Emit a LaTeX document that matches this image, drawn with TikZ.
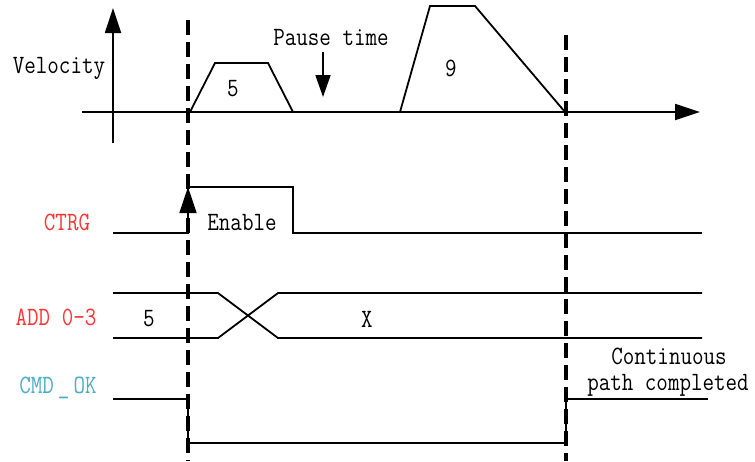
\documentclass[tikz,border=0pt]{standalone}
\usepackage{graphicx}
\usetikzlibrary{arrows.meta}
\definecolor{sigred}{HTML}{FF3333}
\definecolor{sigcyan}{HTML}{4BACC6}
\newcommand\tallText[1]{\scalebox{1}[1.18]{#1}}
\begin{document}
\begin{tikzpicture}[x=1pt,y=-1pt,
  wave/.style={line width=1.8pt, line join=miter},
  guide/.style={line width=3.4pt, dash pattern=on 15pt off 7pt},
  lbl/.style={inner sep=0pt, font=\ttfamily\fontsize{22.4}{25}\selectfont},
  big/.style={-{Triangle[length=25pt,width=16pt]}},
  small/.style={-{Triangle[length=22pt,width=15pt]}}]
\useasboundingbox (0,0) rectangle (755,461);
% axes
\coordinate (vb) at (113,143); \coordinate (vt) at (113,8);
\coordinate (hl) at (82,112); \coordinate (hr) at (700,112);
\draw[wave,big] (vb) -- (vt);
\draw[wave,big] (hl) -- (hr);
% velocity profiles
\draw[wave] (190,112) -- (215,63) -- (268,63) -- (293,112);
\draw[wave] (400,112) -- (430,6) -- (475,6) -- (565,112);
% guides
\coordinate (g1t) at (188,20); \coordinate (g1b) at (188,461);
\coordinate (g2t) at (566,35); \coordinate (g2b) at (566,461);
\draw[guide] (g1t) -- (g1b);
\draw[guide] (g2t) -- (g2b);
% pause arrow
\coordinate (pa) at (323,52); \coordinate (pb) at (323,97);
\draw[wave,small] (pa) -- (pb);
% CTRG
\draw[wave] (113,233) -- (188,233) -- (188,187) -- (293,187) -- (293,233) -- (702,233);
\coordinate (ea) at (188,233); \coordinate (eb) at (188,187);
\draw[wave,-{Triangle[length=26pt,width=17pt]}] (ea) -- (eb);
% ADD
\draw[wave] (113,293) -- (218,293) -- (278,338) -- (702,338);
\draw[wave] (113,338) -- (218,338) -- (278,293) -- (702,293);
% CMD_OK
\draw[wave] (113,399) -- (188,399) -- (188,443) -- (566,443) -- (566,399) -- (708,399);
% labels
\node[lbl] (velocity) at (59,68) {\tallText{Velocity}};
\node[lbl] (pause) at (331,38) {\tallText{Pause time}};
\node[lbl] (five) at (233,89) {\tallText{5}};
\node[lbl] (nine) at (451,68) {\tallText{9}};
\node[lbl,text=sigred] (ctrg) at (67,222) {\tallText{CTRG}};
\node[lbl] (enable) at (242,222) {\tallText{Enable}};
\node[lbl,text=sigred] (add) at (56,317) {\tallText{ADD 0-3}};
\node[lbl] (afive) at (149,319) {\tallText{5}};
\node[lbl] (ax) at (367,319) {\tallText{X}};
\node[lbl,text=sigcyan] (cmd) at (58,388) {\tallText{CMD\hspace{4pt}\_\hspace{4pt}OK}};
\node[lbl] (cont) at (669,356) {\tallText{Continuous}};
\node[lbl] (path) at (668,385) {\tallText{path completed}};
\end{tikzpicture}
\end{document}
